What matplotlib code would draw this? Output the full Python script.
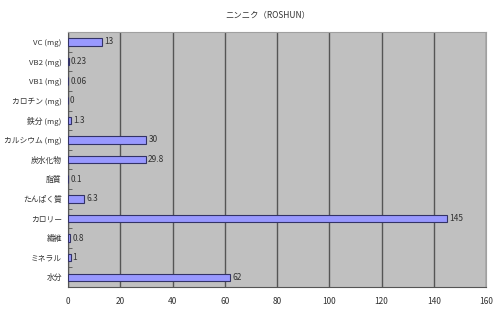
import matplotlib.pyplot as plt
import numpy as np

plt.rcParams['font.family'] = ['Noto Sans CJK JP', 'DejaVu Sans']

labels = ["VC (mg)", "VB2 (mg)", "VB1 (mg)", "カロチン (mg)", "鉄分 (mg)", "カルシウム (mg)",
          "炭水化物", "脂質", "たんぱく質", "カロリー", "繊維", "ミネラル", "水分"]
values = [13, 0.23, 0.06, 0, 1.3, 30, 29.8, 0.1, 6.3, 145, 0.8, 1, 62]
value_text = ["13", "0.23", "0.06", "0", "1.3", "30", "29.8", "0.1", "6.3", "145", "0.8", "1", "62"]
xticks = [0, 20, 40, 60, 80, 100, 120, 140, 160]

fig = plt.figure(figsize=(5, 3.12), dpi=100)
ax = fig.add_axes([0.136, 0.080, 0.836, 0.817])
ax.set_facecolor('#c0c0c0')

y = np.arange(len(labels))
ax.barh(y, values, height=0.38, color='#9999ff', edgecolor='#333366', linewidth=0.8, zorder=3)
for yi, v, t in zip(y, values, value_text):
    ax.text(v + 0.8, yi, t, va='center', ha='left', fontsize=6, color='#333333', zorder=4)

ax.set_xlim(0, 160)
ax.set_ylim(len(labels) - 0.5, -0.5)
ax.set_xticks(xticks)
ax.set_yticks(y)
ax.set_yticklabels(labels)
ax.set_yticks(np.arange(len(labels) + 1) - 0.5, minor=True)
ax.tick_params(axis='y', which='major', length=0, labelsize=5.6, pad=4.5, colors='#333333')
ax.tick_params(axis='y', which='minor', length=3, width=0.6, color='#555555', direction='in')
ax.tick_params(axis='x', length=0, labelsize=6, pad=7, colors='#333333')
ax.grid(axis='x', color='#555555', linewidth=1.0, zorder=1)
for s in ['top', 'right']:
    ax.spines[s].set_color('#a0a0a0')
for s in ['left', 'bottom']:
    ax.spines[s].set_color('#555555')

fig.text(0.536, 0.952, "ニンニク（ROSHUN）", ha='center', va='center', fontsize=6, color='#333333')

fig.savefig('out.png', dpi=100)
